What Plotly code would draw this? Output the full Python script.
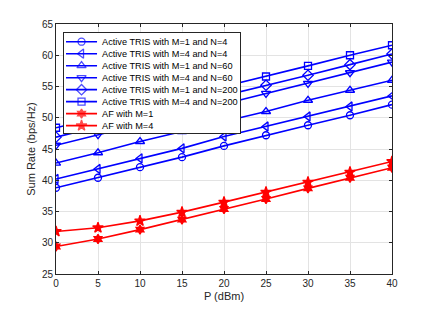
import plotly.graph_objects as go

# ---------------- data ----------------
p_dbm = [0, 5, 10, 15, 20, 25, 30, 35, 40]

tris_m1_n4 = [38.8, 40.4, 42.1, 43.7, 45.5, 47.2, 48.8, 50.4, 52.1]
tris_m4_n4 = [40.2, 41.8, 43.5, 45.1, 47.0, 48.6, 50.2, 51.8, 53.5]
tris_m1_n60 = [42.75, 44.4, 46.2, 47.8, 49.4, 51.0, 52.8, 54.4, 56.0]
tris_m4_n60 = [45.6, 47.3, 48.9, 50.6, 52.2, 53.9, 55.5, 57.2, 58.9]
tris_m1_n200 = [46.9, 48.5, 50.2, 51.9, 53.5, 55.2, 56.8, 58.5, 60.2]
tris_m4_n200 = [48.4, 50.0, 51.7, 53.3, 55.0, 56.6, 58.3, 60.0, 61.6]
af_m1 = [29.4, 30.6, 32.1, 33.7, 35.4, 37.0, 38.7, 40.4, 42.0]
af_m4 = [31.8, 32.4, 33.5, 34.9, 36.5, 38.1, 39.7, 41.3, 43.0]

names = [
    "Active TRIS with M=1 and N=4",
    "Active TRIS with M=4 and N=4",
    "Active TRIS with M=1 and N=60",
    "Active TRIS with M=4 and N=60",
    "Active TRIS with M=1 and N=200",
    "Active TRIS with M=4 and N=200",
    "AF with M=1",
    "AF with M=4",
]
series = [tris_m1_n4, tris_m4_n4, tris_m1_n60, tris_m4_n60,
          tris_m1_n200, tris_m4_n200, af_m1, af_m4]

x_ticks = [0, 5, 10, 15, 20, 25, 30, 35, 40]
y_ticks = [25, 30, 35, 40, 45, 50, 55, 60, 65]

# ---------------- styles ----------------
BLUE = "#0000ff"
RED = "#ff0000"
styles = [
    (BLUE, "circle-open", 7),
    (BLUE, "triangle-left-open", 8),
    (BLUE, "triangle-up-open", 8),
    (BLUE, "triangle-down-open", 8),
    (BLUE, "diamond-open", 8),
    (BLUE, "square-open", 7),
    (RED, "hexagram", 7),
    (RED, "star", 8),
]

FONT = "Liberation Sans, Arial, Helvetica, sans-serif"
AXCOL = "#262626"

fig = go.Figure()

for name, ys, (col, sym, sz) in zip(names, series, styles):
    fig.add_trace(go.Scatter(
        x=p_dbm, y=ys, mode="lines+markers", name=name,
        line=dict(color=col, width=1.6),
        marker=dict(symbol=sym, size=sz, color=col,
                    line=dict(color=col, width=1.3)),
        showlegend=False, xaxis="x", yaxis="y",
    ))

# ---------------- custom legend (MATLAB-like compact box) ----------------
LEG_W = 176.3  # legend box size in px (used as the inset axis range)
LEG_H = 102.3
row0, row_step = 9.0, 12.2
for i, (name, (col, sym, sz)) in enumerate(zip(names, styles)):
    yy = row0 + i * row_step
    fig.add_trace(go.Scatter(
        x=[2, 17.5, 33], y=[yy, yy, yy], mode="lines+markers",
        line=dict(color=col, width=1.6),
        marker=dict(symbol=sym, size=[0, sz, 0], color=col,
                    line=dict(color=col, width=1.3)),
        showlegend=False, hoverinfo="skip", xaxis="x2", yaxis="y2",
    ))
    fig.add_annotation(
        x=36, y=yy, xref="x2", yref="y2", text=name, showarrow=False,
        xanchor="left", yanchor="middle",
        font=dict(family=FONT, size=9.2, color="#000000"),
    )

L, R, T, B = 56, 44.3, 24, 34.7
W, H = 436, 313
pw, ph = W - L - R, H - T - B
leg_x0 = (64 - L) / pw
leg_x1 = (240.3 - L) / pw
leg_y1 = (H - B - 33) / ph
leg_y0 = (H - B - 135.3) / ph

fig.update_layout(
    width=W, height=H,
    margin=dict(l=L, r=R, t=T, b=B),
    paper_bgcolor="white", plot_bgcolor="white",
    font=dict(family=FONT, size=10, color=AXCOL),
    showlegend=False,
    xaxis=dict(
        range=[0, 40], tickvals=x_ticks, ticks="inside", ticklen=3,
        tickcolor=AXCOL, showline=True, linecolor=AXCOL, linewidth=1,
        mirror="ticks", showgrid=True, gridcolor="#e3e3e3", gridwidth=1,
        zeroline=False, tickfont=dict(size=10, color=AXCOL),
        title=dict(text="P (dBm)", font=dict(size=11, color=AXCOL), standoff=4),
    ),
    yaxis=dict(
        range=[25, 65], tickvals=y_ticks, ticks="inside", ticklen=3,
        tickcolor=AXCOL, showline=True, linecolor=AXCOL, linewidth=1,
        mirror="ticks", showgrid=True, gridcolor="#e3e3e3", gridwidth=1,
        zeroline=False, tickfont=dict(size=10, color=AXCOL),
        title=dict(text="Sum Rate (bps/Hz)", font=dict(size=11, color=AXCOL), standoff=4),
    ),
    xaxis2=dict(
        domain=[leg_x0, leg_x1], range=[0, LEG_W], anchor="y2",
        showgrid=False, zeroline=False, showticklabels=False, ticks="",
        showline=True, linecolor="#262626", linewidth=1, mirror=True,
        fixedrange=True,
    ),
    yaxis2=dict(
        domain=[leg_y0, leg_y1], range=[LEG_H, 0], anchor="x2",
        showgrid=False, zeroline=False, showticklabels=False, ticks="",
        showline=True, linecolor="#262626", linewidth=1, mirror=True,
        fixedrange=True,
    ),
)

fig.write_html("out.html", config={"displayModeBar": False},
               post_script="document.body.style.margin='0px';")
